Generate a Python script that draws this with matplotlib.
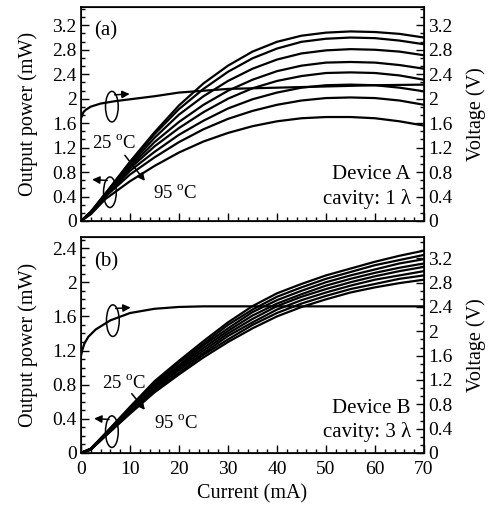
import numpy as np
import matplotlib
matplotlib.use('Agg')
import matplotlib.pyplot as plt
from matplotlib.patches import Ellipse
from matplotlib.ticker import MultipleLocator, AutoMinorLocator

plt.rcParams['font.family'] = 'Liberation Serif'
plt.rcParams['mathtext.fontset'] = 'custom'
plt.rcParams['mathtext.rm'] = 'Liberation Serif'

# current grid for the L-I curves (mA)
current = [0, 2, 5, 10, 15, 20, 25, 30, 35, 40, 45, 50, 55, 60, 65, 70]

# Device A output power (mW), 25 C .. 95 C in 10 C steps
power_a = [
    [0, .15, .45, .97, 1.45, 1.89, 2.25, 2.54, 2.77, 2.93, 3.03, 3.08, 3.10, 3.09, 3.06, 3.00],
    [0, .15, .45, .95, 1.42, 1.83, 2.16, 2.44, 2.66, 2.82, 2.93, 2.98, 3.00, 2.99, 2.95, 2.89],
    [0, .14, .44, .92, 1.36, 1.74, 2.04, 2.29, 2.49, 2.64, 2.74, 2.79, 2.81, 2.80, 2.77, 2.71],
    [0, .14, .43, .89, 1.29, 1.62, 1.90, 2.13, 2.31, 2.45, 2.54, 2.59, 2.60, 2.59, 2.55, 2.49],
    [0, .13, .42, .86, 1.22, 1.52, 1.78, 2.00, 2.17, 2.29, 2.37, 2.42, 2.43, 2.42, 2.38, 2.31],
    [0, .13, .41, .82, 1.13, 1.41, 1.64, 1.84, 1.99, 2.10, 2.18, 2.22, 2.23, 2.22, 2.18, 2.12],
    [0, .12, .40, .76, 1.04, 1.29, 1.50, 1.67, 1.80, 1.90, 1.97, 2.01, 2.02, 2.01, 1.97, 1.90],
    [0, .11, .36, .65, .90, 1.12, 1.30, 1.44, 1.55, 1.63, 1.68, 1.70, 1.70, 1.68, 1.63, 1.56],
]

# Device B output power (mW)
power_b = [
    [0, .05, .23, .54, .84, 1.08, 1.31, 1.53, 1.72, 1.87, 1.98, 2.08, 2.16, 2.24, 2.31, 2.37],
    [0, .05, .23, .53, .82, 1.06, 1.28, 1.50, 1.68, 1.83, 1.94, 2.04, 2.12, 2.20, 2.26, 2.32],
    [0, .05, .22, .52, .80, 1.03, 1.26, 1.46, 1.65, 1.79, 1.90, 2.00, 2.08, 2.15, 2.22, 2.27],
    [0, .05, .22, .51, .78, 1.01, 1.23, 1.43, 1.61, 1.75, 1.86, 1.96, 2.04, 2.11, 2.17, 2.22],
    [0, .04, .21, .49, .77, .99, 1.20, 1.40, 1.57, 1.72, 1.83, 1.92, 2.00, 2.07, 2.13, 2.18],
    [0, .04, .21, .48, .75, .97, 1.17, 1.37, 1.53, 1.68, 1.79, 1.88, 1.96, 2.03, 2.08, 2.13],
    [0, .04, .20, .47, .73, .94, 1.15, 1.33, 1.50, 1.64, 1.75, 1.84, 1.92, 1.98, 2.04, 2.08],
    [0, .04, .20, .46, .71, .92, 1.12, 1.30, 1.46, 1.60, 1.71, 1.80, 1.88, 1.94, 1.99, 2.03],
]

# voltage curves (V)
current_va = [0, 0.5, 1, 2, 4, 7, 10, 15, 20, 25, 30, 40, 50, 60, 70]
voltage_a = [1.68, 1.78, 1.82, 1.87, 1.92, 1.96, 1.99, 2.04, 2.10, 2.13, 2.16, 2.18, 2.20, 2.22, 2.23]
current_vb = [0, 0.3, 0.7, 1.5, 3, 6, 10, 15, 20, 25, 30, 40, 50, 60, 70]
voltage_b = [1.60, 1.70, 1.80, 1.91, 2.03, 2.18, 2.30, 2.37, 2.40, 2.41, 2.41, 2.41, 2.41, 2.41, 2.41]

fig = plt.figure(figsize=(4.9, 5.08), dpi=100)
ax_a = fig.add_axes([0.1653, 0.5650, 0.700, 0.4213])
ax_b = fig.add_axes([0.1653, 0.1083, 0.700, 0.4252])

lw = 1.6
fs_tick = 14
fs_lab = 14.5
fs_txt = 15


def fmt(v, p):
    return '%g' % round(v, 2)


def style(ax, ylim, minor_div, labels_x):
    ax.set_xlim(0, 70)
    ax.set_ylim(*ylim)
    ax.xaxis.set_major_locator(MultipleLocator(10))
    ax.xaxis.set_minor_locator(AutoMinorLocator(5))
    ax.yaxis.set_major_locator(MultipleLocator(0.4))
    ax.yaxis.set_minor_locator(AutoMinorLocator(minor_div))
    ax.tick_params(which='both', direction='in', top=False, right=False, labelsize=fs_tick)
    ax.tick_params(which='major', length=6, width=1)
    ax.tick_params(which='minor', length=3, width=1)
    ax.tick_params(axis='y', pad=3)
    ax.tick_params(axis='x', pad=6)
    if not labels_x:
        ax.tick_params(axis='x', labelbottom=False)
    for s in ax.spines.values():
        s.set_linewidth(1.2)
    ax.yaxis.set_major_formatter(plt.FuncFormatter(fmt))
    ax.set_ylabel('Output power (mW)', fontsize=fs_lab, labelpad=10)


def style_right(tw, ylim):
    tw.set_ylim(*ylim)
    tw.yaxis.set_major_locator(MultipleLocator(0.4))
    tw.yaxis.set_minor_locator(AutoMinorLocator(3))
    tw.tick_params(which='both', direction='in', labelsize=fs_tick, pad=3)
    tw.tick_params(which='major', length=6, width=1)
    tw.tick_params(which='minor', length=3, width=1)
    tw.yaxis.set_major_formatter(plt.FuncFormatter(fmt))
    tw.set_ylabel('Voltage (V)', fontsize=fs_lab, labelpad=10)


def rot_arrows(ax, volt_xy, pow_xy, ew, eh, t_start, t_end):
    # ellipses with arrows marking which axis each curve belongs to
    for (cx, cy), dx in ((volt_xy, 1), (pow_xy, -1)):
        ax.add_patch(Ellipse((cx, cy), ew, eh, fill=False, lw=1.1, color='k'))
        ax.annotate('', xy=(cx + dx * 4.2, cy + eh * 0.42), xytext=(cx, cy + eh * 0.38),
                    arrowprops=dict(arrowstyle='-|>', color='k', lw=1.1, mutation_scale=11))
    ax.annotate('', xy=t_end, xytext=t_start,
                arrowprops=dict(arrowstyle='-|>', color='k', lw=1.1, mutation_scale=11))


# ---- panel (a)
style(ax_a, (0, 3.5), 3, False)
for p in power_a:
    ax_a.plot(current, p, color='k', lw=lw)
tw_a = ax_a.twinx()
style_right(tw_a, (0, 3.5))
tw_a.plot(current_va, voltage_a, color='k', lw=lw)

ax_a.text(0.073, 0.89, '(a)', transform=ax_a.transAxes, fontsize=fs_txt, ha='center', va='center')
ax_a.text(0.962, 0.215, 'Device A', transform=ax_a.transAxes, fontsize=fs_txt, ha='right', va='center')
ax_a.text(0.962, 0.103, 'cavity: 1 λ', transform=ax_a.transAxes, fontsize=fs_txt, ha='right', va='center')
ax_a.text(2.2, 1.27, r'25 $^{\rm o}$C', fontsize=13.5, ha='left', va='center')
ax_a.text(14.6, 0.45, r'95 $^{\rm o}$C', fontsize=13.5, ha='left', va='center')
rot_arrows(ax_a, (6.3, 1.87), (5.9, 0.47), 2.6, 0.5, (8.6, 1.11), (13.4, 0.62))

# ---- panel (b)
style(ax_b, (0, 2.53), 4, True)
for p in power_b:
    ax_b.plot(current, p, color='k', lw=lw)
ax_b.set_xlabel('Current (mA)', fontsize=fs_lab, labelpad=4)
tw_b = ax_b.twinx()
style_right(tw_b, (0, 3.55))
tw_b.plot(current_vb, voltage_b, color='k', lw=lw)

ax_b.text(0.073, 0.884, '(b)', transform=ax_b.transAxes, fontsize=fs_txt, ha='center', va='center')
ax_b.text(0.962, 0.208, 'Device B', transform=ax_b.transAxes, fontsize=fs_txt, ha='right', va='center')
ax_b.text(0.962, 0.097, 'cavity: 3 λ', transform=ax_b.transAxes, fontsize=fs_txt, ha='right', va='center')
ax_b.text(4.2, 0.82, r'25 $^{\rm o}$C', fontsize=13.5, ha='left', va='center')
ax_b.text(15.0, 0.35, r'95 $^{\rm o}$C', fontsize=13.5, ha='left', va='center')
rot_arrows(ax_b, (6.5, 1.55), (6.3, 0.25), 2.6, 0.37, (10.0, 0.72), (13.4, 0.48))

fig.savefig('out.png', dpi=100)
